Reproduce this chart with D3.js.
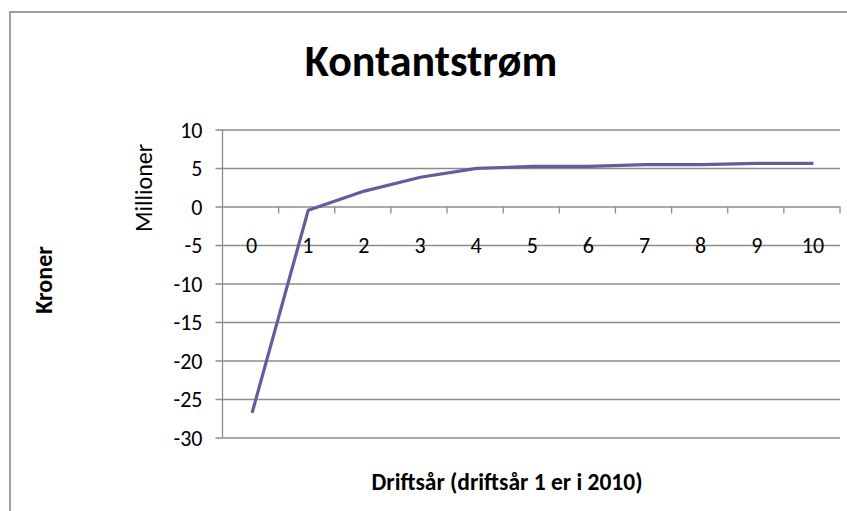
<!DOCTYPE html>
<html>
<head>
<meta charset="utf-8">
<script src="https://cdn.jsdelivr.net/npm/d3@7"></script>
<style>
  html, body { margin: 0; padding: 0; background: #fff; }
  svg text { font-family: Carlito, Calibri, Lato, "Open Sans", sans-serif; fill: #000; }
</style>
</head>
<body>
<svg id="chart" width="847" height="511"></svg>
<script>
const categories = ["0", "1", "2", "3", "4", "5", "6", "7", "8", "9", "10"];
const values = [-26.8, -0.5, 2.0, 3.8, 4.95, 5.2, 5.2, 5.45, 5.45, 5.6, 5.6];
const yTicks = [10, 5, 0, -5, -10, -15, -20, -25, -30];
const title = "Kontantstrøm";
const xTitle = "Driftsår (driftsår 1 er i 2010)";
const yTitle = "Kroner";
const yUnit = "Millioner";

const svg = d3.select("#chart");
const W = 847, H = 511;
const plot = { left: 222.5, right: 840, top: 129.5, bottom: 437.5 };

// chart frame
svg.append("rect").attr("x", 10).attr("y", 12).attr("width", W + 10).attr("height", H + 10)
  .attr("fill", "#fff").attr("stroke", "#a0a0a0").attr("stroke-width", 2);

const x = d3.scaleBand().domain(categories).range([plot.left, plot.right]).paddingInner(0).paddingOuter(0);
const y = d3.scaleLinear().domain([-30, 10]).range([plot.bottom, plot.top]);

// horizontal gridlines with left tick marks + labels
const yAxis = d3.axisLeft(y).tickValues(yTicks).tickSize(-(plot.right - plot.left)).tickFormat(d => String(d));
const gy = svg.append("g").attr("transform", `translate(${plot.left},0)`).call(yAxis);
gy.select(".domain").remove();
gy.selectAll(".tick line").attr("stroke", "#8c8c8c").attr("stroke-width", 1.3).attr("x1", -7);
gy.selectAll(".tick text").attr("font-size", 22).attr("dy", "0.35em").attr("x", -20);
// vertical axis line
svg.append("line").attr("x1", plot.left).attr("x2", plot.left).attr("y1", plot.top).attr("y2", plot.bottom)
  .attr("stroke", "#8c8c8c").attr("stroke-width", 1.3);

// category axis at y=0 (ticks at band boundaries)
const boundaries = categories.map(c => x(c)).concat([plot.right]).slice(1);
svg.append("g").selectAll("line").data(boundaries).join("line")
  .attr("x1", d => d).attr("x2", d => d).attr("y1", y(0)).attr("y2", y(0) + 7)
  .attr("stroke", "#8c8c8c").attr("stroke-width", 1.3);
svg.append("g").selectAll("text").data(categories).join("text")
  .attr("x", d => x(d) + x.bandwidth() / 2 + 1).attr("y", y(-5)).attr("dy", "0.36em")
  .attr("text-anchor", "middle").attr("font-size", 22).text(d => d);

// series line
const line = d3.line().x((d, i) => x(categories[i]) + x.bandwidth() / 2 + 1.5).y(d => y(d));
svg.append("path").datum(values).attr("d", line).attr("fill", "none")
  .attr("stroke", "#5f5f9f").attr("stroke-width", 3.2).attr("stroke-linejoin", "round");

// titles
svg.append("text").attr("x", 431).attr("y", 76).attr("text-anchor", "middle")
  .attr("font-size", 44).attr("font-weight", "bold").text(title);
svg.append("text").attr("x", 507).attr("y", 490).attr("text-anchor", "middle")
  .attr("font-size", 23.5).attr("font-weight", "bold").text(xTitle);
svg.append("text").attr("transform", "translate(52,280) rotate(-90)").attr("text-anchor", "middle")
  .attr("font-size", 24).attr("font-weight", "bold").text(yTitle);
svg.append("text").attr("transform", "translate(152,188) rotate(-90)").attr("text-anchor", "middle")
  .attr("font-size", 24).text(yUnit);
</script>
</body>
</html>
